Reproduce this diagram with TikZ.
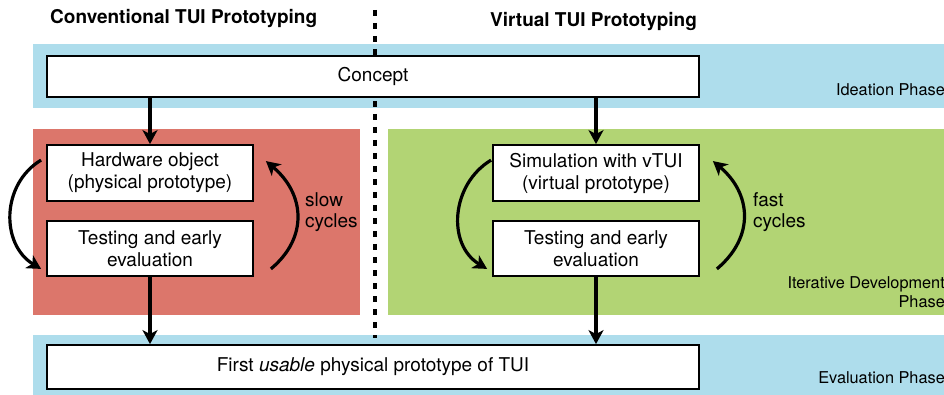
\documentclass[tikz,border=0pt]{standalone}
\usepackage{fontspec}
\setmainfont{TeX Gyre Heros}
\usetikzlibrary{arrows.meta}
\definecolor{blueband}{RGB}{174,221,236}
\definecolor{redband}{RGB}{220,118,107}
\definecolor{greenband}{RGB}{178,212,116}
\tikzset{
  box/.style={draw=black, line width=1.8pt, fill=white, rectangle, inner sep=0pt, align=center,
    font=\fontsize{19}{22}\selectfont},
  arr/.style={line width=3.2pt, -{Stealth[length=14pt,width=15pt,inset=4pt]}},
  cyc/.style={line width=3.2pt, -{Stealth[length=14pt,width=15pt,inset=4pt]}},
  title/.style={font=\fontsize{19}{22}\selectfont\bfseries, inner sep=0pt},
  phase/.style={font=\fontsize{16.3}{19}\selectfont, inner sep=0pt, align=right},
  cyclabel/.style={font=\fontsize{19}{21}\selectfont, inner sep=0pt, align=left},
  divider/.style={line width=3.2pt, dash pattern=on 6pt off 7pt}
}
\begin{document}
\begin{tikzpicture}[x=1pt,y=-1pt]
\useasboundingbox (0,0) rectangle (944,395);
% bands
\fill[blueband] (33,44) rectangle (944,108);
\fill[redband] (33,129) rectangle (360,315);
\fill[greenband] (388,129) rectangle (944,315);
\fill[blueband] (33,335) rectangle (944,395);
% divider
\coordinate (dtop) at (375,10);
\coordinate (dbot) at (375,338);
\draw[divider] (dtop) -- (dbot);
% titles
\node[title, anchor=base west] (tleft) at (50,24) {Conventional TUI Prototyping};
\node[title, anchor=base west] (tright) at (490,27) {Virtual TUI Prototyping};
% boxes
\node[box, minimum width=652pt, minimum height=41pt] (concept) at (373,76.5) {Concept};
\node[box, minimum width=206pt, minimum height=56pt] (hw) at (150,173) {Hardware object\\(physical prototype)};
\node[box, minimum width=206pt, minimum height=55pt] (test) at (150,248.5) {Testing and early\\evaluation};
\node[box, minimum width=206pt, minimum height=56pt] (sim) at (596,173) {Simulation with vTUI\\(virtual prototype)};
\node[box, minimum width=206pt, minimum height=55pt] (testv) at (596,248.5) {Testing and early\\evaluation};
\node[box, minimum width=652pt, minimum height=44pt] (eval) at (373,367) {First \textit{usable} physical prototype of TUI};
% phase labels
\node[phase, anchor=east] (ideation) at (945,90) {Ideation Phase};
\node[phase, anchor=east] (iterative) at (945,292) {Iterative Development\\Phase};
\node[phase, anchor=east] (evaluation) at (945,378) {Evaluation Phase};
% cycle labels
\node[cyclabel, anchor=west] (slow) at (305,212) {slow\\cycles};
\node[cyclabel, anchor=west] (fast) at (753,212) {fast\\cycles};
% straight arrows
\draw[arr] (concept.south -| hw.north) -- (hw.north);
\draw[arr] (concept.south -| sim.north) -- (sim.north);
\draw[arr] (test.south) -- (test.south |- eval.north);
\draw[arr] (testv.south) -- (testv.south |- eval.north);
% cycle arrows
\draw[cyc] ([xshift=-5pt,yshift=-16pt]hw.north west) to[out=211,in=149,distance=47pt] ([xshift=-5pt,yshift=8pt]test.south west);
\draw[cyc] ([xshift=17pt,yshift=8pt]test.south east) to[out=40,in=-40,distance=50pt] ([xshift=12pt,yshift=-17pt]hw.north east);
\draw[cyc] ([xshift=-1pt,yshift=-16pt]sim.north west) to[out=211,in=149,distance=47pt] ([xshift=-5pt,yshift=8pt]testv.south west);
\draw[cyc] ([xshift=17pt,yshift=8pt]testv.south east) to[out=40,in=-40,distance=50pt] ([xshift=13pt,yshift=-17pt]sim.north east);
\end{tikzpicture}
\end{document}
